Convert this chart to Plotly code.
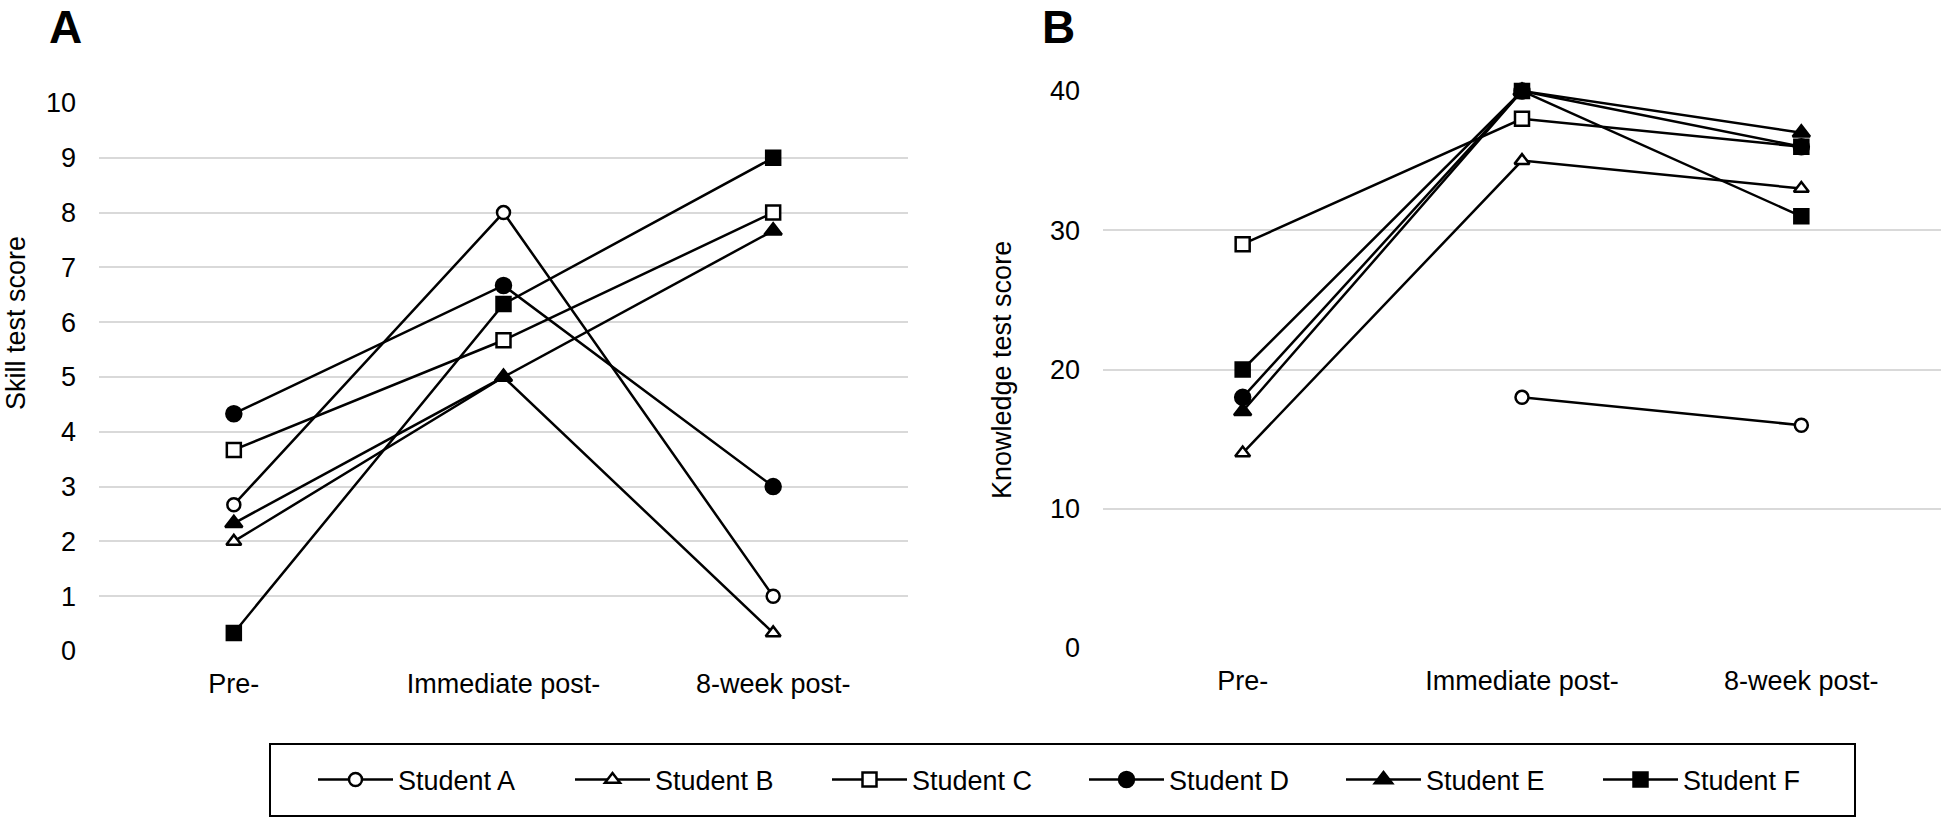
import plotly.graph_objects as go

W, H = 1943, 819

timepoints = ["Pre-", "Immediate post-", "8-week post-"]
students = ["Student A", "Student B", "Student C", "Student D", "Student E", "Student F"]

# Panel A: skill test scores
skill_A = [2.67, 8.0, 1.0]
skill_B = [2.0, 5.0, 0.33]
skill_C = [3.67, 5.67, 8.0]
skill_D = [4.33, 6.67, 3.0]
skill_E = [2.33, 5.0, 7.67]
skill_F = [0.33, 6.33, 9.0]

# Panel B: knowledge test scores
know_A = [None, 18, 16]
know_B = [14, 35, 33]
know_C = [29, 38, 36]
know_D = [18, 40, 36]
know_E = [17, 40, 37]
know_F = [20, 40, 31]

skill_ticks = list(range(0, 11))
know_ticks = [0, 10, 20, 30, 40]

skill = [skill_A, skill_B, skill_C, skill_D, skill_E, skill_F]
know = [know_A, know_B, know_C, know_D, know_E, know_F]
symbols = ["circle", "triangle-up", "square", "circle", "triangle-up", "square"]
fills = ["white", "white", "white", "black", "black", "black"]
sizes = [13, 13, 14, 15, 15, 14]

FONT = "Liberation Sans, Arial, sans-serif"

fig = go.Figure()
for i, name in enumerate(students):
    mk = dict(symbol=symbols[i], size=sizes[i], color=fills[i],
              line=dict(color="black", width=2.5))
    fig.add_trace(go.Scatter(x=timepoints, y=skill[i], name=name, mode="lines+markers",
                             line=dict(color="black", width=2.5), marker=mk,
                             xaxis="x", yaxis="y", legendgroup=name, showlegend=True,
                             cliponaxis=False))
    fig.add_trace(go.Scatter(x=timepoints, y=know[i], name=name, mode="lines+markers",
                             line=dict(color="black", width=2.5), marker=mk,
                             xaxis="x2", yaxis="y2", legendgroup=name, showlegend=False,
                             cliponaxis=False, connectgaps=False))

def px_x(a, b):
    return [a / W, b / W]

def px_y(top, bottom):
    return [1 - bottom / H, 1 - top / H]

axis_common = dict(showline=False, ticks="", showgrid=True, gridcolor="#d9d9d9",
                   gridwidth=2, zeroline=False, tickfont=dict(size=27, color="black", family=FONT),
                   automargin=False)

fig.update_layout(
    width=W, height=H,
    margin=dict(l=0, r=0, t=0, b=0),
    paper_bgcolor="white", plot_bgcolor="white",
    font=dict(family=FONT, color="black", size=27),
    xaxis=dict(domain=px_x(99, 908), type="category", range=[-0.5, 2.5],
               showgrid=False, showline=False, ticks="", ticklabelstandoff=14,
               tickfont=dict(size=27, color="black", family=FONT), automargin=False),
    xaxis2=dict(domain=px_x(1103, 1941), type="category", range=[-0.5, 2.5],
                showgrid=False, showline=False, ticks="", ticklabelstandoff=14,
                tickfont=dict(size=27, color="black", family=FONT), automargin=False,
                anchor="y2"),
    yaxis=dict(domain=px_y(103, 651), range=[0, 10], tickvals=skill_ticks,
               ticklabelstandoff=22, anchor="x", **axis_common),
    yaxis2=dict(domain=px_y(91, 648), range=[0, 40], tickvals=know_ticks,
                ticklabelstandoff=22, anchor="x2", **axis_common),
    legend=dict(orientation="h", x=1084 / W, xanchor="center", y=1 - 780 / H, yanchor="middle",
                borderwidth=0, bgcolor="rgba(0,0,0,0)",
                font=dict(size=27, color="black", family=FONT),
                itemwidth=75, entrywidth=167, entrywidthmode="pixels"),
    shapes=[dict(type="rect", xref="paper", yref="paper",
                 x0=270 / W, x1=1855 / W, y0=1 - 816 / H, y1=1 - 744 / H,
                 line=dict(color="black", width=2), fillcolor="rgba(0,0,0,0)", layer="below")],
    annotations=[
        dict(text="<b>A</b>", x=65 / W, y=1, xref="paper", yref="paper",
             xanchor="center", yanchor="top", borderpad=0,
             showarrow=False, font=dict(size=46, family=FONT, color="black")),
        dict(text="<b>B</b>", x=1058 / W, y=1, xref="paper", yref="paper",
             xanchor="center", yanchor="top", borderpad=0,
             showarrow=False, font=dict(size=46, family=FONT, color="black")),
        dict(text="Skill test score", textangle=-90, x=0, y=1 - 323 / H,
             xref="paper", yref="paper", showarrow=False, xanchor="left", yanchor="middle",
             borderpad=0, font=dict(size=27, family=FONT, color="black")),
        dict(text="Knowledge test score", textangle=-90, x=1002 / W, y=1 - 370 / H,
             xref="paper", yref="paper", showarrow=False, xanchor="center", yanchor="middle",
             font=dict(size=27, family=FONT, color="black")),
    ],
)

fig.write_html("out.html", config={"displayModeBar": False},
               post_script="document.body.style.margin='0';document.body.style.overflow='hidden';")
